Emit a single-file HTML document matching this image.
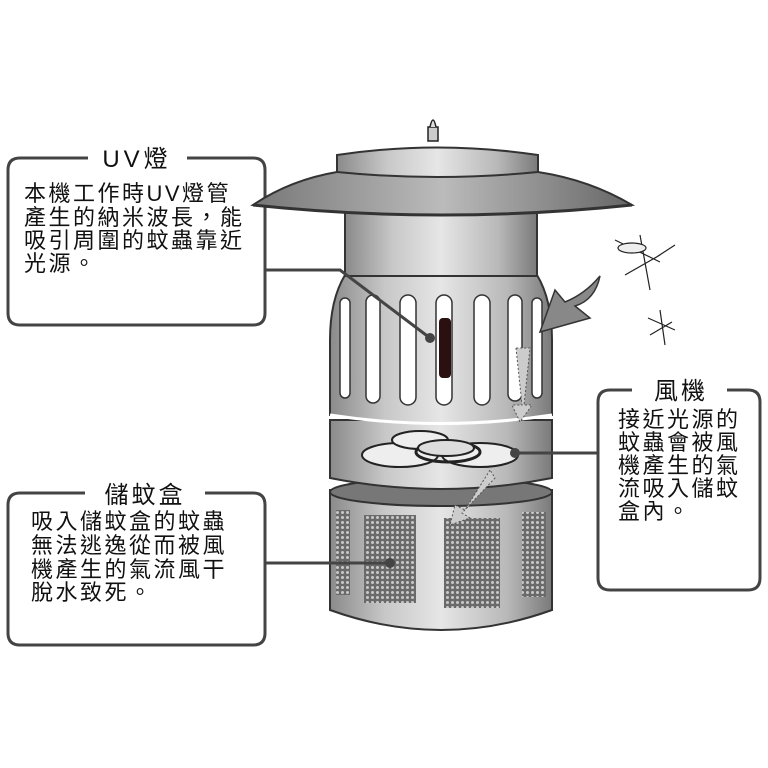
<!DOCTYPE html>
<html><head><meta charset="utf-8"><style>
html,body{margin:0;padding:0;background:#fff}
svg{display:block}
text{font-family:"Liberation Sans","Noto Sans CJK TC",sans-serif;fill:#111}
</style></head><body>
<svg width="768" height="768" viewBox="0 0 768 768" xmlns="http://www.w3.org/2000/svg">
<defs>
<linearGradient id="g" x1="0" x2="1" y1="0" y2="0">
<stop offset="0" stop-color="#8a8a8a"/><stop offset="0.25" stop-color="#c8c8c8"/><stop offset="0.5" stop-color="#e6e6e6"/><stop offset="0.8" stop-color="#b8b8b8"/><stop offset="1" stop-color="#7a7a7a"/>
</linearGradient>
<linearGradient id="gd" x1="0" x2="1" y1="0" y2="0">
<stop offset="0" stop-color="#777"/><stop offset="0.5" stop-color="#bbb"/><stop offset="1" stop-color="#666"/>
</linearGradient>
<pattern id="mesh" width="5" height="5" patternUnits="userSpaceOnUse">
<rect width="5" height="5" fill="#6a6a6a"/><circle cx="2.5" cy="2.5" r="1.5" fill="#c8c8c8"/>
</pattern>
</defs>

<!-- UV box -->
<path d="M88 158 H20 Q8 158 8 170 V313 Q8 325 20 325 H253 Q265 325 265 313 V170 Q265 158 253 158 H187" fill="none" stroke="#444" stroke-width="3"/>
<text x="137" y="167" font-size="24" letter-spacing="4" text-anchor="middle">UV燈</text>
<g font-size="22" letter-spacing="2.5">
<text x="24" y="201">本機工作時UV燈管</text>
<text x="24" y="225">產生的納米波長，能</text>
<text x="24" y="248">吸引周圍的蚊蟲靠近</text>
<text x="24" y="271">光源。</text>
</g>

<!-- Storage box -->
<path d="M85 493 H20 Q8 493 8 505 V633 Q8 645 20 645 H253 Q265 645 265 633 V505 Q265 493 253 493 H205" fill="none" stroke="#444" stroke-width="3"/>
<text x="145" y="503" font-size="24" letter-spacing="3" text-anchor="middle">儲蚊盒</text>
<g font-size="22" letter-spacing="2.5">
<text x="31" y="529">吸入儲蚊盒的蚊蟲</text>
<text x="31" y="553">無法逃逸從而被風</text>
<text x="31" y="577">機產生的氣流風干</text>
<text x="31" y="600">脫水致死。</text>
</g>

<!-- Fan box -->
<path d="M632 390 H610 Q598 390 598 402 V578 Q598 590 610 590 H748 Q760 590 760 578 V402 Q760 390 748 390 H727" fill="none" stroke="#444" stroke-width="3"/>
<text x="681" y="399" font-size="24" letter-spacing="3" text-anchor="middle">風機</text>
<g font-size="22" letter-spacing="2.5">
<text x="618" y="427">接近光源的</text>
<text x="618" y="450">蚊蟲會被風</text>
<text x="618" y="473">機產生的氣</text>
<text x="618" y="496">流吸入儲蚊</text>
<text x="618" y="519">盒內。</text>
</g>

<!-- Lamp -->
<rect x="428" y="127" width="10" height="14" fill="#ccc" stroke="#222" stroke-width="1.5"/>
<path d="M430 127 Q433 113 436 127" fill="#ddd" stroke="#222" stroke-width="1.5"/>
<!-- base -->
<path d="M330 490 V610 Q441 650 552 610 V490 Z" fill="url(#g)" stroke="#333" stroke-width="2"/>
<ellipse cx="441" cy="492" rx="111" ry="14" fill="#777" stroke="#333" stroke-width="2"/>
<rect x="336" y="510" width="14" height="85" fill="url(#mesh)"/>
<rect x="364" y="515" width="52" height="88" fill="url(#mesh)"/>
<rect x="444" y="518" width="56" height="90" fill="url(#mesh)"/>
<rect x="522" y="512" width="24" height="85" fill="url(#mesh)"/>
<!-- fan section -->
<path d="M330 420 V478 Q441 500 552 478 V420 Z" fill="url(#g)" stroke="#333" stroke-width="2"/>
<ellipse cx="400" cy="455" rx="38" ry="12" fill="#eee" stroke="#222" stroke-width="2"/>
<ellipse cx="480" cy="455" rx="38" ry="12" fill="#eee" stroke="#222" stroke-width="2"/>
<ellipse cx="420" cy="440" rx="28" ry="9" fill="#eee" stroke="#222" stroke-width="2"/>
<ellipse cx="448" cy="452" rx="32" ry="10" fill="none" stroke="#222" stroke-width="3"/>
<ellipse cx="446" cy="448" rx="28" ry="8" fill="#ddd" stroke="#222" stroke-width="2"/>
<!-- slotted section -->
<path d="M345 275 Q330 300 330 340 V415 Q441 432 552 415 V340 Q552 300 537 275 Z" fill="url(#g)" stroke="#333" stroke-width="2"/>
<path d="M330 415 Q441 432 552 415" fill="none" stroke="#fff" stroke-width="3"/>
<g fill="#fff" stroke="#333" stroke-width="1.5">
<rect x="340" y="298" width="10" height="100" rx="5"/>
<rect x="366" y="295" width="14" height="108" rx="7"/>
<rect x="400" y="295" width="16" height="110" rx="8"/>
<rect x="436" y="295" width="16" height="110" rx="8"/>
<rect x="474" y="295" width="16" height="110" rx="8"/>
<rect x="508" y="295" width="14" height="106" rx="7"/>
<rect x="532" y="298" width="10" height="100" rx="5"/>
</g>
<rect x="439" y="318" width="12" height="60" rx="4" fill="#2a1010"/>
<!-- upper cylinder -->
<rect x="345" y="210" width="192" height="66" fill="url(#g)" stroke="#333" stroke-width="2"/>
<!-- brim -->
<path d="M253 205 Q290 180 337 172 H538 Q590 180 632 205 Q441 225 253 205 Z" fill="url(#gd)" stroke="#333" stroke-width="2"/>
<path d="M253 205 Q441 225 632 205" fill="none" stroke="#333" stroke-width="3"/>
<!-- cap -->
<path d="M337 172 V155 Q437 140 538 155 V172 Q437 182 337 172 Z" fill="url(#g)" stroke="#333" stroke-width="2"/>
<!-- arrows -->
<path d="M600 276 Q595 300 575 306 L590 318 L540 332 L555 290 L565 302 Q585 294 600 276 Z" fill="#888" stroke="#333" stroke-width="1.5"/>
<path d="M516 348 L522 405 L512 405 L520 422 L532 405 L524 405 L530 348 Z" fill="#ccc" stroke="#555" stroke-width="1" stroke-dasharray="2 2"/>
<path d="M490 470 L465 510 L455 505 L450 525 L470 518 L462 513 L495 478 Z" fill="#ccc" stroke="#555" stroke-width="1" stroke-dasharray="2 2"/>
<!-- mosquitoes -->
<g stroke="#222" stroke-width="1.2" fill="none">
<path d="M615 240 L660 262 M640 235 L650 290 M625 275 L660 255 M655 258 L675 245"/>
<ellipse cx="632" cy="248" rx="14" ry="5" fill="#eee"/>
<path d="M648 318 L675 330 M660 310 L665 345 M650 335 L672 322"/>
</g>
<!-- connectors -->
<g stroke="#444" stroke-width="3" fill="none">
<path d="M265 270 H340 L430 338"/>
<path d="M598 453 H515"/>
<path d="M265 563 H390"/>
</g>
<circle cx="430" cy="338" r="5" fill="#444"/>
<circle cx="515" cy="453" r="5" fill="#444"/>
<circle cx="390" cy="563" r="5" fill="#444"/>
</svg>
</body></html>
